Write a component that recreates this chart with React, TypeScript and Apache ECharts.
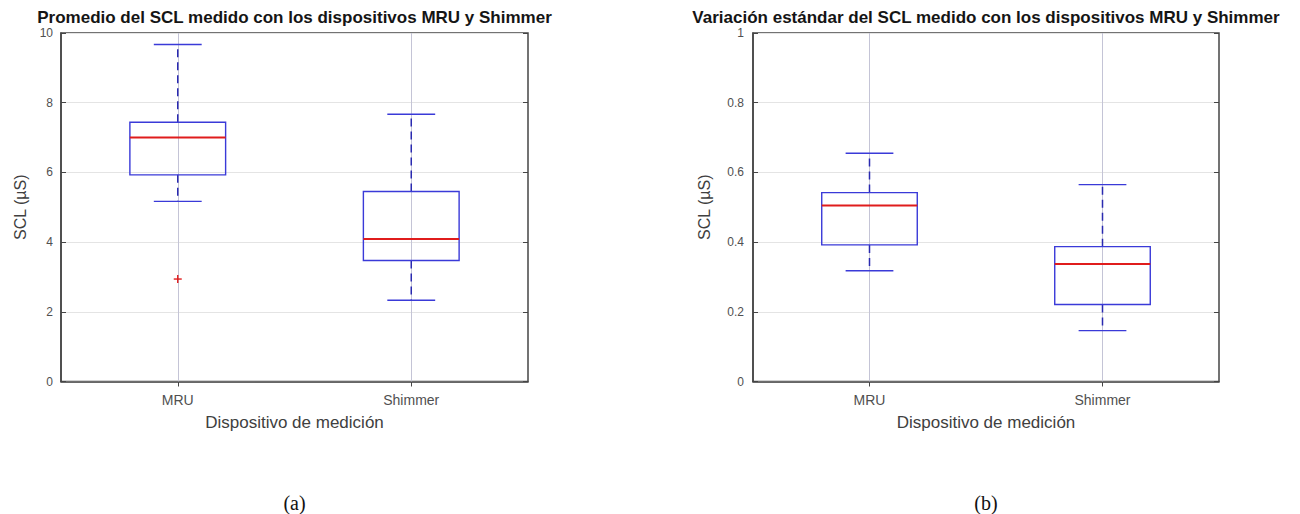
import React, { useEffect, useRef } from "react";
import * as echarts from "echarts";

// ---------- data ----------
const categories = ["MRU", "Shimmer"];
// [lower whisker, Q1, median, Q3, upper whisker]
const meanStats = [
  [5.17, 5.93, 7.0, 7.44, 9.67],
  [2.33, 3.47, 4.09, 5.45, 7.67],
];
// [category index, value]
const meanOutliers = [[0, 2.94]];
const stdStats = [
  [0.318, 0.392, 0.505, 0.542, 0.655],
  [0.146, 0.221, 0.337, 0.387, 0.565],
];
const stdOutliers: number[][] = [];

const titleMean = "Promedio del SCL medido con los dispositivos MRU y Shimmer";
const titleStd = "Variación estándar del SCL medido con los dispositivos MRU y Shimmer";
const yName = "SCL (µS)";
const xName = "Dispositivo de medición";
const captions = ["(a)", "(b)"];

// ---------- styling ----------
const FONT = "'Liberation Sans', Arial, sans-serif";
const BLUE = "#3a3ad8";
const WHISKER = "#2a2ab0";
const RED = "#e01c1c";
const AXIS = "#454545";
const LABEL = "#505050";
const BOX_FRACTION = 0.41;

const G = [
  { left: 61, top: 33, width: 467, height: 348.5 },
  { left: 753, top: 33, width: 466, height: 348.5 },
];

function renderBox(_params: any, api: any) {
  const idx = api.value(0);
  const lo = api.coord([idx, api.value(1)]);
  const q1 = api.coord([idx, api.value(2)]);
  const md = api.coord([idx, api.value(3)]);
  const q3 = api.coord([idx, api.value(4)]);
  const hi = api.coord([idx, api.value(5)]);
  const band = api.size([1, 0])[0];
  const bw = band * BOX_FRACTION;
  const cx = md[0];
  const dash = { stroke: WHISKER, lineWidth: 1.5, lineDash: [8, 5] };
  const solid = { stroke: BLUE, lineWidth: 1.4 };
  return {
    type: "group",
    children: [
      { type: "line", shape: { x1: cx, y1: q3[1], x2: cx, y2: hi[1] }, style: dash },
      { type: "line", shape: { x1: cx, y1: q1[1], x2: cx, y2: lo[1] }, style: dash },
      { type: "line", shape: { x1: cx - bw / 4, y1: hi[1], x2: cx + bw / 4, y2: hi[1] }, style: solid },
      { type: "line", shape: { x1: cx - bw / 4, y1: lo[1], x2: cx + bw / 4, y2: lo[1] }, style: solid },
      {
        type: "rect",
        shape: { x: cx - bw / 2, y: q3[1], width: bw, height: q1[1] - q3[1] },
        style: { fill: "none", stroke: BLUE, lineWidth: 1.4 },
      },
      { type: "line", shape: { x1: cx - bw / 2, y1: md[1], x2: cx + bw / 2, y2: md[1] }, style: { stroke: RED, lineWidth: 2 } },
    ],
  };
}

function renderPlus(_params: any, api: any) {
  const p = api.coord([api.value(0), api.value(1)]);
  const s = 4;
  const st = { stroke: RED, lineWidth: 1.4 };
  return {
    type: "group",
    children: [
      { type: "line", shape: { x1: p[0] - s, y1: p[1], x2: p[0] + s, y2: p[1] }, style: st },
      { type: "line", shape: { x1: p[0], y1: p[1] - s, x2: p[0], y2: p[1] + s }, style: st },
    ],
  };
}

function buildAxes(g: number, max: number, interval: number, yNameGap: number, yLabelMargin: number) {
  const xMain = {
    type: "category",
    gridIndex: g,
    data: categories,
    position: "bottom",
    boundaryGap: true,
    axisLine: { show: true, lineStyle: { color: AXIS, width: 1.5 } },
    axisTick: { show: true, inside: true, alignWithLabel: true, length: 5, lineStyle: { color: AXIS } },
    axisLabel: { color: LABEL, fontSize: 14, fontFamily: FONT, margin: 11 },
    splitLine: { show: false },
    name: xName,
    nameLocation: "middle",
    nameGap: 32,
    nameTextStyle: { color: "#404040", fontSize: 17, fontFamily: FONT },
  };
  const xTop = {
    type: "category",
    gridIndex: g,
    data: categories,
    position: "top",
    boundaryGap: true,
    axisLine: { show: false },
    axisTick: { show: true, inside: true, alignWithLabel: true, length: 5, lineStyle: { color: AXIS } },
    axisLabel: { show: false },
    splitLine: { show: false },
  };
  const yMain = {
    type: "value",
    gridIndex: g,
    min: 0,
    max,
    interval,
    position: "left",
    axisLine: { show: true, lineStyle: { color: AXIS, width: 1.5 } },
    axisTick: { show: true, inside: true, length: 5, lineStyle: { color: AXIS } },
    axisLabel: { color: LABEL, fontSize: 12, fontFamily: FONT, margin: yLabelMargin },
    splitLine: { show: true, lineStyle: { color: "#e4e4e4", width: 1 } },
    name: yName,
    nameLocation: "middle",
    nameGap: yNameGap,
    nameTextStyle: { color: "#404040", fontSize: 16, fontFamily: FONT },
  };
  const yRight = {
    type: "value",
    gridIndex: g,
    min: 0,
    max,
    interval,
    position: "right",
    axisLine: { show: false },
    axisTick: { show: true, inside: true, length: 5, lineStyle: { color: AXIS } },
    axisLabel: { show: false },
    splitLine: { show: false },
  };
  return { x: [xMain, xTop], y: [yMain, yRight] };
}

export default function App() {
  const ref = useRef<HTMLDivElement>(null);
  useEffect(() => {
    if (!ref.current) return;
    const chart = echarts.init(ref.current, undefined, { renderer: "svg" });
    const a0 = buildAxes(0, 10, 2, 33, 8);
    const a1 = buildAxes(1, 1, 0.2, 41, 9);
    const vGrid = (xi: number, yi: number) => ({
      type: "scatter",
      xAxisIndex: xi,
      yAxisIndex: yi,
      data: [],
      z: 1,
      silent: true,
      markLine: {
        z: 1,
        silent: true,
        symbol: "none",
        label: { show: false },
        lineStyle: { color: "#c4c4d6", type: "solid", width: 1 },
        data: categories.map((c) => ({ xAxis: c })),
      },
    });
    const boxSeries = (xi: number, yi: number, stats: number[][]) => ({
      type: "custom",
      xAxisIndex: xi,
      yAxisIndex: yi,
      z: 3,
      renderItem: renderBox,
      encode: { x: 0, y: [1, 2, 3, 4, 5] },
      data: stats.map((s, i) => [i, ...s]),
    });
    const outlierSeries = (xi: number, yi: number, pts: number[][]) => ({
      type: "custom",
      xAxisIndex: xi,
      yAxisIndex: yi,
      z: 4,
      renderItem: renderPlus,
      encode: { x: 0, y: 1 },
      data: pts,
    });
    chart.setOption({
      animation: false,
      backgroundColor: "#ffffff",
      textStyle: { fontFamily: FONT },
      grid: G.map((g) => ({
        ...g,
        show: true,
        borderColor: AXIS,
        borderWidth: 1.5,
        backgroundColor: "transparent",
        containLabel: false,
      })),
      xAxis: [...a0.x, ...a1.x],
      yAxis: [...a0.y, ...a1.y],
      series: [
        vGrid(0, 0),
        boxSeries(0, 0, meanStats),
        outlierSeries(0, 0, meanOutliers),
        vGrid(2, 2),
        boxSeries(2, 2, stdStats),
        outlierSeries(2, 2, stdOutliers),
      ],
      graphic: [
        {
          type: "text",
          x: G[0].left + G[0].width / 2,
          y: 17,
          style: { text: titleMean, align: "center", verticalAlign: "middle", font: `bold 17px ${FONT}`, fill: "#151515" },
        },
        {
          type: "text",
          x: G[1].left + G[1].width / 2,
          y: 17,
          style: { text: titleStd, align: "center", verticalAlign: "middle", font: `bold 17px ${FONT}`, fill: "#151515" },
        },
        {
          type: "text",
          x: G[0].left + G[0].width / 2,
          y: 503,
          style: { text: captions[0], align: "center", verticalAlign: "middle", font: `20px 'Liberation Serif', serif`, fill: "#111" },
        },
        {
          type: "text",
          x: G[1].left + G[1].width / 2,
          y: 503,
          style: { text: captions[1], align: "center", verticalAlign: "middle", font: `20px 'Liberation Serif', serif`, fill: "#111" },
        },
      ],
    });
    return () => chart.dispose();
  }, []);
  return <div ref={ref} style={{ position: "absolute", left: 0, top: 0, width: 1300, height: 514 }} />;
}
